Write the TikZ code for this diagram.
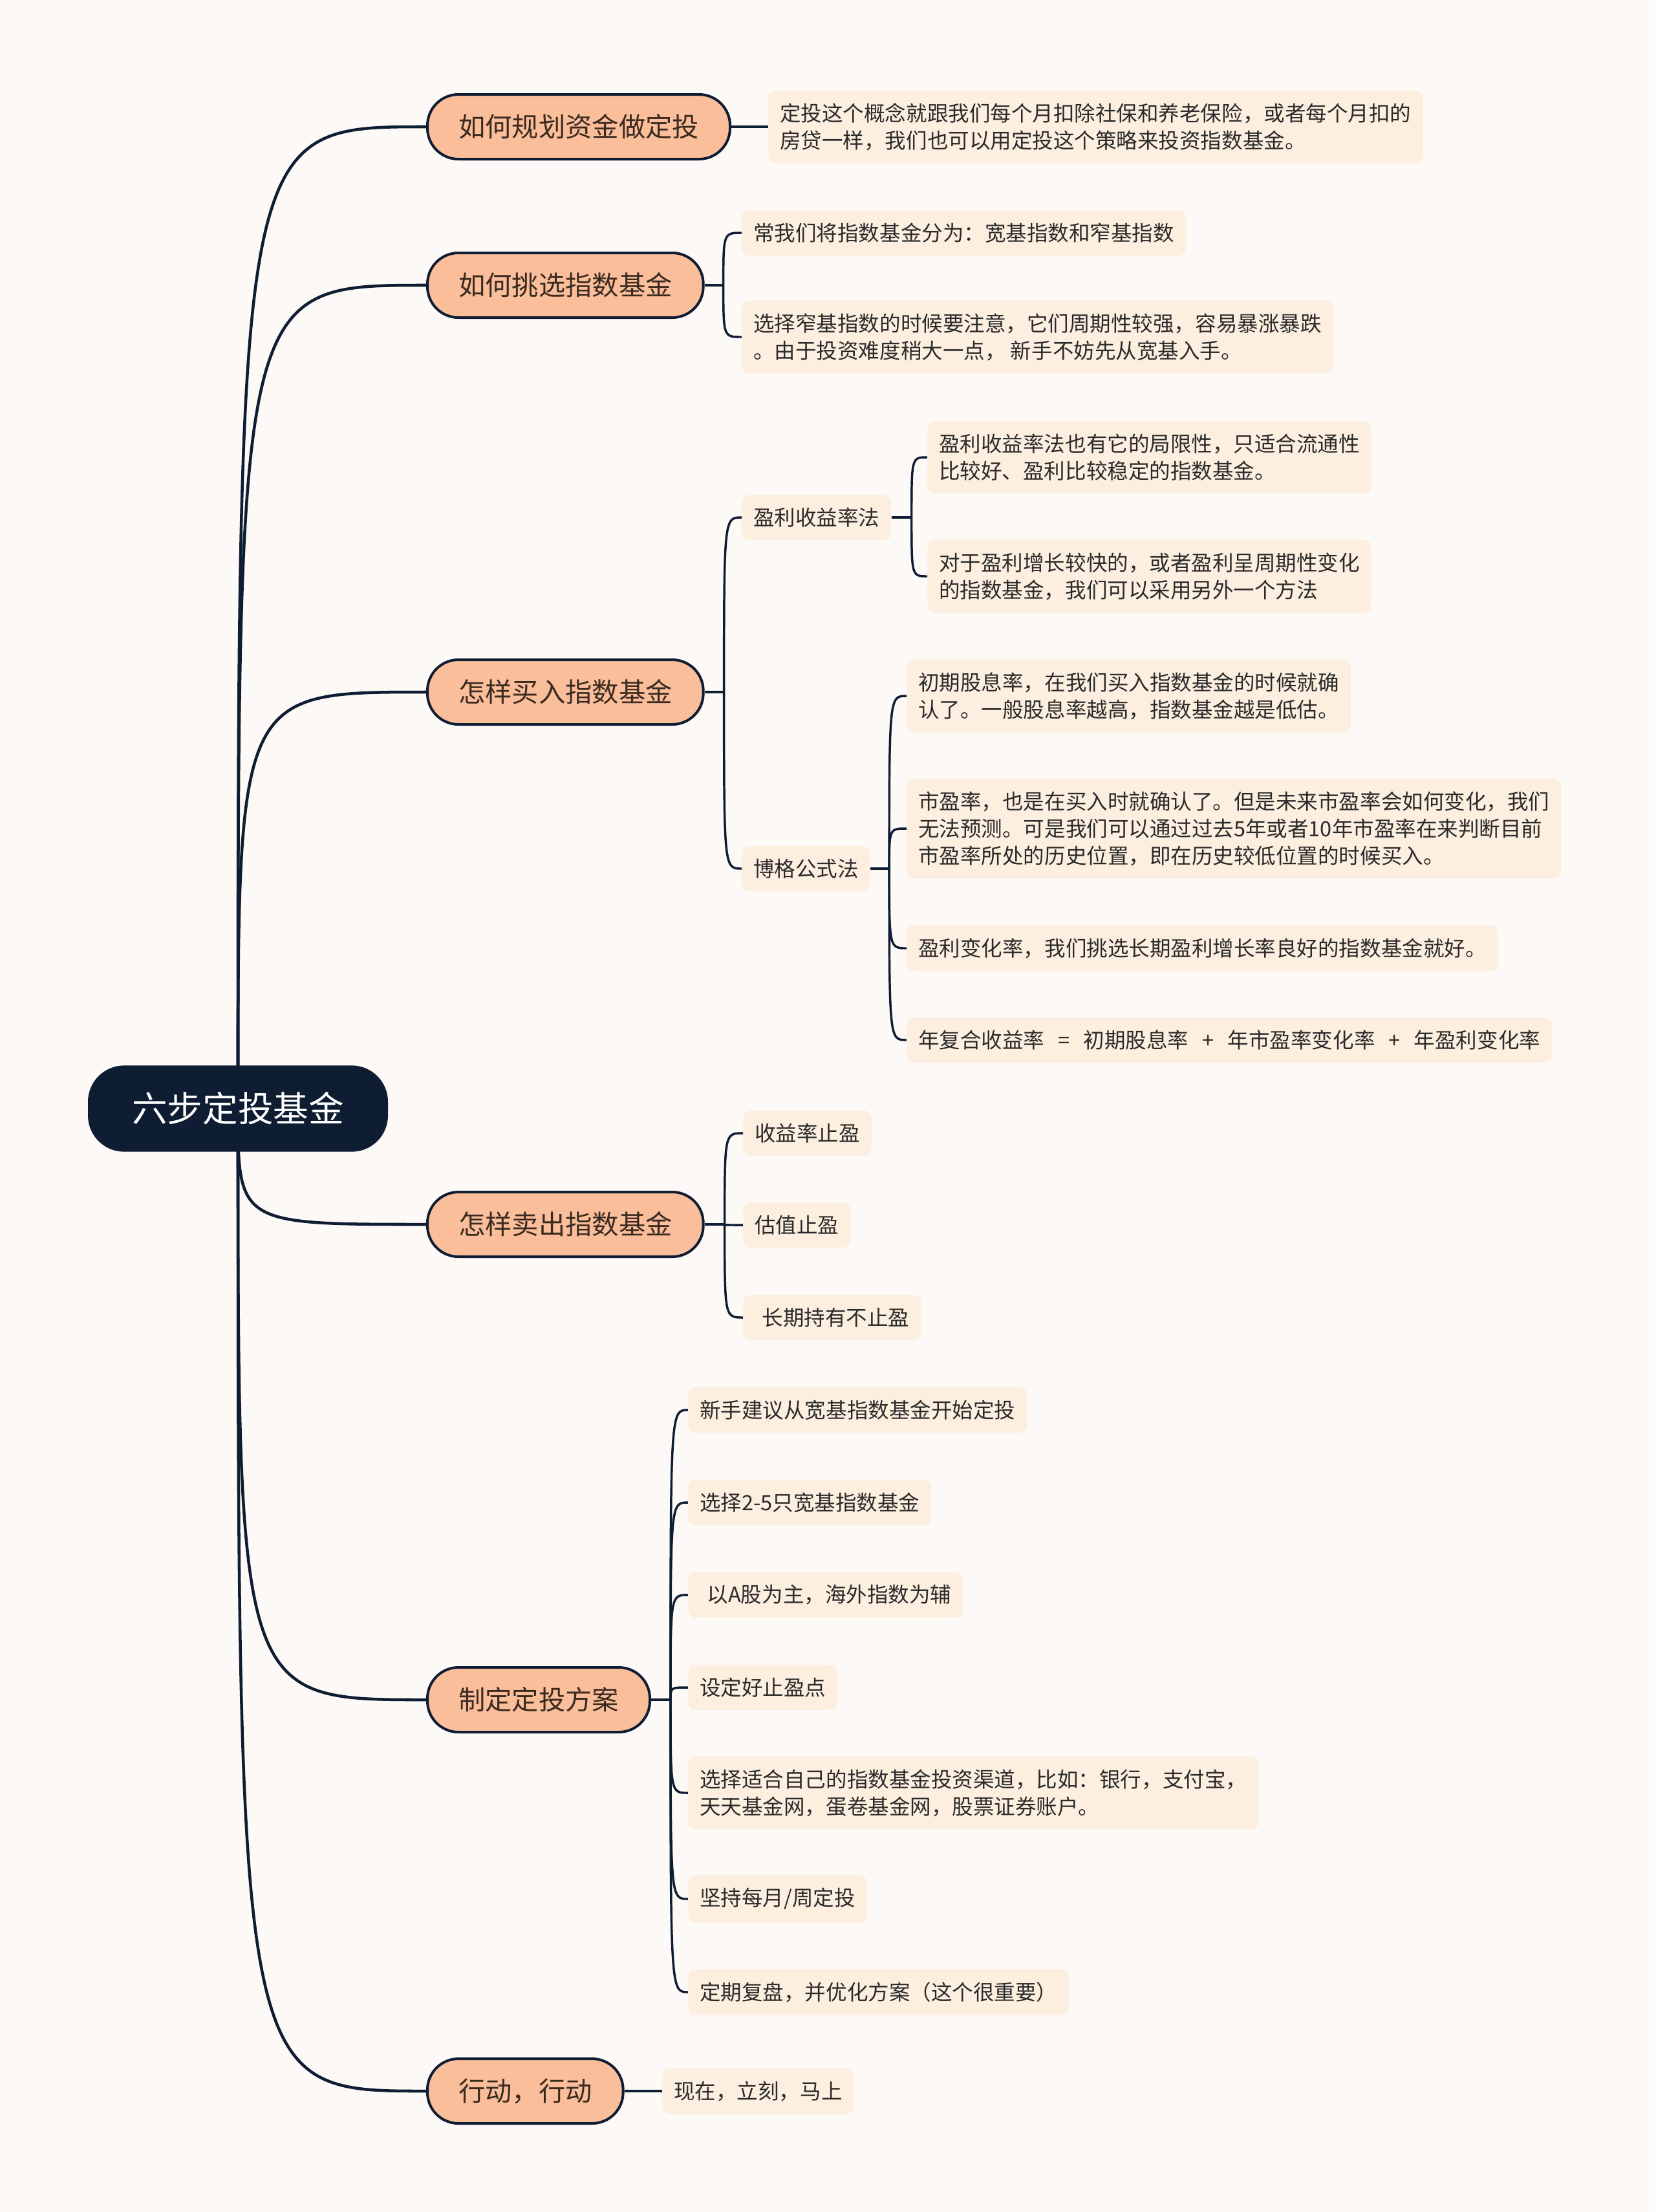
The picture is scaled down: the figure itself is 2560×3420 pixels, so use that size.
\documentclass[tikz,border=0pt]{standalone}
\usepackage{fontspec}
\setmainfont{Noto Sans CJK SC}
\usetikzlibrary{calc}
\definecolor{bgc}{HTML}{FCF9F7}
\definecolor{navy}{HTML}{0F1D33}
\definecolor{peach}{HTML}{FBBE9B}
\definecolor{cfill}{HTML}{FDEFE0}
\definecolor{ltext}{HTML}{3A2A20}
\definecolor{ctext}{HTML}{2A2A2A}
\pgfdeclarelayer{edges}
\pgfsetlayers{edges,main}
\newcommand{\gapsp}{\hspace{0.65em}}
\tikzset{
  rootnode/.style={fill=navy, text=white, rounded corners=42pt, minimum width=348pt, minimum height=100pt,
    font=\fontsize{41pt}{50pt}\selectfont},
  lvone/.style={fill=peach, draw=navy, line width=3pt, rounded corners=36pt, minimum height=75pt,
    inner xsep=36pt, text=ltext, font=\fontsize{31pt}{38pt}\selectfont, anchor=west},
  cbox/.style={fill=cfill, rounded corners=9pt, inner xsep=13.5pt, inner ysep=15pt, align=left,
    text=ctext, font=\fontsize{24.4pt}{31.5pt}\selectfont, anchor=west},
  rootedge/.style={draw=navy, line width=3.4pt},
  edge/.style={draw=navy, line width=2.6pt},
}
\begin{document}
\begin{tikzpicture}[x=0.75pt,y=-0.75pt]
\useasboundingbox (0,0) rectangle (2560,3420);
% root
\node[rootnode] (root) at (368,1714) {六步定投基金};
% level 1
\node[lvone] (a) at (659,196) {如何规划资金做定投};
\node[lvone] (b) at (659,441) {如何挑选指数基金};
\node[lvone] (c) at (659,1070) {怎样买入指数基金};
\node[lvone] (d) at (659,1893) {怎样卖出指数基金};
\node[lvone] (e) at (659,2628) {制定定投方案};
\node[lvone] (f) at (659,3233) {行动，行动};
% branch a
\node[cbox] (a1) at (1188,196) {定投这个概念就跟我们每个月扣除社保和养老保险，或者每个月扣的\\房贷一样，我们也可以用定投这个策略来投资指数基金。};
% branch b
\node[cbox] (b1) at (1147,360) {常我们将指数基金分为：宽基指数和窄基指数};
\node[cbox] (b2) at (1147,521) {选择窄基指数的时候要注意，它们周期性较强，容易暴涨暴跌\\。由于投资难度稍大一点， 新手不妨先从宽基入手。};
% branch c
\node[cbox] (c1) at (1147,800) {盈利收益率法};
\node[cbox] (c11) at (1434,707) {盈利收益率法也有它的局限性，只适合流通性\\比较好、盈利比较稳定的指数基金。};
\node[cbox] (c12) at (1434,891) {对于盈利增长较快的，或者盈利呈周期性变化\\的指数基金，我们可以采用另外一个方法};
\node[cbox] (c2) at (1147,1343) {博格公式法};
\node[cbox] (c21) at (1402,1076) {初期股息率，在我们买入指数基金的时候就确\\认了。一般股息率越高，指数基金越是低估。};
\node[cbox] (c22) at (1402,1281) {市盈率，也是在买入时就确认了。但是未来市盈率会如何变化，我们\\无法预测。可是我们可以通过过去5年或者10年市盈率在来判断目前\\市盈率所处的历史位置，即在历史较低位置的时候买入。};
\node[cbox] (c23) at (1402,1466) {盈利变化率，我们挑选长期盈利增长率良好的指数基金就好。};
\node[cbox] (c24) at (1402,1608) {年复合收益率{\gapsp}={\gapsp}初期股息率{\gapsp}+{\gapsp}年市盈率变化率{\gapsp}+{\gapsp}年盈利变化率};
% branch d
\node[cbox] (d1) at (1149,1752) {收益率止盈};
\node[cbox] (d2) at (1149,1894) {估值止盈};
\node[cbox] (d3) at (1149,2037) {\hspace*{0.35em}长期持有不止盈};
% branch e
\node[cbox] (e1) at (1064,2180) {新手建议从宽基指数基金开始定投};
\node[cbox] (e2) at (1064,2323) {选择2-5只宽基指数基金};
\node[cbox] (e3) at (1064,2466) {\hspace*{0.35em}以A股为主，海外指数为辅};
\node[cbox] (e4) at (1064,2609) {设定好止盈点};
\node[cbox] (e5) at (1064,2772) {选择适合自己的指数基金投资渠道，比如：银行，支付宝，\\天天基金网，蛋卷基金网，股票证券账户。};
\node[cbox] (e6) at (1064,2936) {坚持每月/周定投};
\node[cbox] (e7) at (1064,3080) {定期复盘，并优化方案（这个很重要）};
% branch f
\node[cbox] (f1) at (1024,3233) {现在，立刻，马上};

\begin{pgfonlayer}{edges}
\fill[bgc] (0,0) rectangle (2560,3420);
% root connectors
\foreach \n in {a,b,c,d,e,f}{
  \draw[rootedge] (root.center) .. controls (root.center |- \n.west) .. (\n.west);
}
% single children
\draw[edge] (a.east) -- (a1.west);
\draw[edge] (f.east) -- (f1.west);
% spines
\coordinate (bs) at ($(b.east)+(29,0)$);
\coordinate (cs) at ($(c.east)+(30,0)$);
\coordinate (c1s) at ($(c1.east)+(31,0)$);
\coordinate (c2s) at ($(c2.east)+(29,0)$);
\coordinate (ds) at ($(d.east)+(31,0)$);
\coordinate (es) at ($(e.east)+(30,0)$);
\draw[edge] (b.east) -- (bs);
\draw[edge] (c.east) -- (cs);
\draw[edge] (c1.east) -- (c1s);
\draw[edge] (c2.east) -- (c2s);
\draw[edge] (d.east) -- (ds);
\draw[edge] (e.east) -- (es);
\foreach \s/\k in {bs/b1,bs/b2,cs/c1,cs/c2,c1s/c11,c1s/c12,c2s/c21,c2s/c22,c2s/c23,c2s/c24,ds/d1,ds/d2,ds/d3,es/e1,es/e2,es/e3,es/e4,es/e5,es/e6,es/e7}{
  \draw[edge] (\s) .. controls (\s |- \k.west) .. (\k.west);
}
\end{pgfonlayer}
\end{tikzpicture}
\end{document}
